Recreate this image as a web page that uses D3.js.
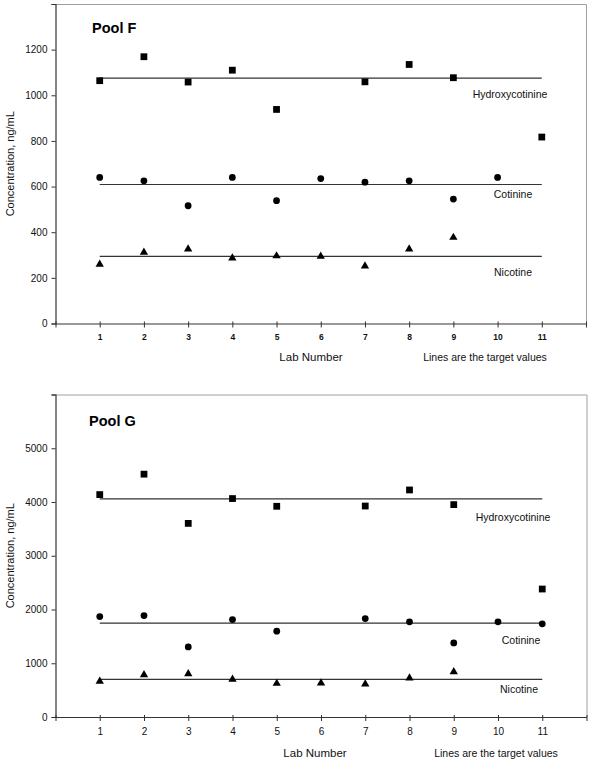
<!DOCTYPE html>
<html>
<head>
<meta charset="utf-8">
<script src="https://cdn.jsdelivr.net/npm/d3@7/dist/d3.min.js"></script>
<style>
  html, body { margin: 0; padding: 0; background: #fff; }
  svg { display: block; font-family: "Liberation Sans", Arial, sans-serif; }
</style>
</head>
<body>
<svg id="chart" width="592" height="763"></svg>
<script>
// ---------- DATA ----------
const labs = [1, 2, 3, 4, 5, 6, 7, 8, 9, 10, 11];
const xTickLabels = ["1", "2", "3", "4", "5", "6", "7", "8", "9", "10", "11"];

// Pool F (null = no result reported)
const poolFHydroxy   = [1064, 1169, 1058, 1110, 938, null, 1059, 1135, 1077, null, 817];
const poolFCotinine  = [640, 625, 516, 640, 538, 635, 619, 625, 545, 640, null];
const poolFNicotine  = [259, 312, 326, 287, 296, 294, 252, 326, 377, null, null];
const poolFTargets   = [1075, 609, 294];   // hydroxycotinine, cotinine, nicotine
const poolFYTicks    = [0, 200, 400, 600, 800, 1000, 1200, 1400];
const poolFYLabels   = ["0", "200", "400", "600", "800", "1000", "1200", ""];

// Pool G
const poolGHydroxy   = [4138, 4518, 3602, 4064, 3920, null, 3925, 4224, 3951, null, 2381];
const poolGCotinine  = [1869, 1888, 1303, 1813, 1596, null, 1832, 1770, 1377, 1770, 1733];
const poolGNicotine  = [662, 785, 804, 699, 624, 630, 611, 723, 841, null, null];
const poolGTargets   = [4060, 1745, 699];
const poolGYTicks    = [0, 1000, 2000, 3000, 4000, 5000, 6000];
const poolGYLabels   = ["0", "1000", "2000", "3000", "4000", "5000", ""];

const analyteNames = ["Hydroxycotinine", "Cotinine", "Nicotine"];

// ---------- DRAWING ----------
const svg = d3.select("#chart");

function drawPanel(cfg) {
  const g = svg.append("g");
  const x = d3.scaleLinear().domain([0, 12]).range([cfg.left, cfg.right]);
  const y = d3.scaleLinear().domain(cfg.yDomain).range([cfg.bottom, cfg.top]);

  // plot frame (top + right, gray)
  g.append("path")
    .attr("d", `M${cfg.left},${cfg.top + 0.5}H${cfg.right + 0.5}V${cfg.bottom}`)
    .attr("fill", "none").attr("stroke", "#a0a0a0").attr("stroke-width", 1);

  // y axis
  const yAxis = d3.axisLeft(y).tickValues(cfg.yTicks)
    .tickFormat((d, i) => cfg.yLabels[i]).tickSize(4).tickPadding(4);
  const ya = g.append("g").attr("transform", `translate(${cfg.left},0)`).call(yAxis);
  ya.select(".domain").attr("stroke", "#333").attr("stroke-width", 1.2);
  ya.selectAll(".tick line").attr("stroke", "#333");
  ya.selectAll(".tick text").attr("font-size", 10).attr("fill", "#111")
    .attr("font-family", "Liberation Sans, Arial, sans-serif");

  // x axis
  const xAxis = d3.axisBottom(x).tickValues([0].concat(labs, [12]))
    .tickFormat(d => (d >= 1 && d <= 11) ? xTickLabels[d - 1] : "")
    .tickSizeInner(4).tickSizeOuter(0).tickPadding(cfg.xPad);
  const xa = g.append("g").attr("transform", `translate(0,${cfg.bottom})`).call(xAxis);
  xa.select(".domain").attr("stroke", "#333").attr("stroke-width", 1.2);
  xa.selectAll(".tick line").attr("stroke", "#333").attr("y1", -2);
  xa.selectAll(".tick text").attr("font-size", cfg.xFont).attr("font-weight", cfg.xWeight)
    .attr("fill", "#111").attr("font-family", "Liberation Sans, Arial, sans-serif");

  // target lines
  g.selectAll("line.target").data(cfg.targets).enter().append("line")
    .attr("class", "target")
    .attr("x1", x(labs[0])).attr("x2", x(labs[labs.length - 1]))
    .attr("y1", d => y(d)).attr("y2", d => y(d))
    .attr("stroke", "#333").attr("stroke-width", 1.2);

  // markers
  const series = [
    { vals: cfg.hydroxy, type: d3.symbolSquare, size: 46 },
    { vals: cfg.cotinine, type: d3.symbolCircle, size: 36 },
    { vals: cfg.nicotine, type: d3.symbolTriangle, size: 30 }
  ];
  series.forEach(s => {
    const pts = labs.map((l, i) => ({ lab: l, v: s.vals[i] })).filter(p => p.v !== null);
    g.selectAll(null).data(pts).enter().append("path")
      .attr("d", d3.symbol().type(s.type).size(s.size))
      .attr("transform", p => `translate(${x(p.lab)},${y(p.v)})`)
      .attr("fill", "#000");
  });

  // series labels
  cfg.labelPos.forEach((p, i) => {
    g.append("text").attr("x", p[0]).attr("y", p[1])
      .attr("text-anchor", "middle").attr("font-size", 10.5).attr("fill", "#111")
      .text(analyteNames[i]);
  });

  // title
  g.append("text").attr("x", cfg.titleX).attr("y", cfg.titleY)
    .attr("font-size", 14.5).attr("font-weight", "bold").attr("fill", "#000")
    .text(cfg.title);

  // y axis title
  g.append("text")
    .attr("transform", `translate(${cfg.yTitleX},${(cfg.top + cfg.bottom) / 2}) rotate(-90)`)
    .attr("text-anchor", "middle").attr("font-size", 11).attr("fill", "#111")
    .text("Concentration, ng/mL");

  // x axis title + note
  g.append("text").attr("x", cfg.xTitleX).attr("y", cfg.xTitleY)
    .attr("text-anchor", "middle").attr("font-size", 11.5).attr("fill", "#111")
    .text("Lab Number");
  g.append("text").attr("x", cfg.noteX).attr("y", cfg.xTitleY)
    .attr("text-anchor", "middle").attr("font-size", 10.5).attr("fill", "#111")
    .text("Lines are the target values");
}

drawPanel({
  left: 55.5, right: 586, top: 4, bottom: 323.5,
  yDomain: [0, 1400], yTicks: poolFYTicks, yLabels: poolFYLabels,
  hydroxy: poolFHydroxy, cotinine: poolFCotinine, nicotine: poolFNicotine,
  targets: poolFTargets,
  labelPos: [[510, 98], [513, 198], [513, 276]],
  title: "Pool F", titleX: 92, titleY: 33,
  yTitleX: 14, xTitleX: 311, xTitleY: 361, noteX: 485,
  xFont: 8.5, xWeight: "bold", xPad: 6
});

drawPanel({
  left: 55.5, right: 586.5, top: 394.5, bottom: 717,
  yDomain: [0, 6000], yTicks: poolGYTicks, yLabels: poolGYLabels,
  hydroxy: poolGHydroxy, cotinine: poolGCotinine, nicotine: poolGNicotine,
  targets: poolGTargets,
  labelPos: [[513, 521], [521, 644], [519, 693]],
  title: "Pool G", titleX: 89, titleY: 426,
  yTitleX: 14, xTitleX: 315, xTitleY: 757, noteX: 496,
  xFont: 10, xWeight: "normal", xPad: 7
});
</script>
</body>
</html>
